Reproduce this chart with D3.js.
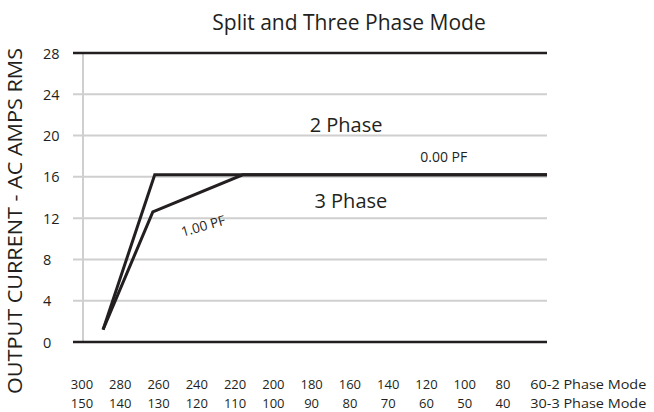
<!DOCTYPE html>
<html><head><meta charset="utf-8">
<script src="https://cdn.jsdelivr.net/npm/d3@7"></script>
<style>body{margin:0;background:#fff}svg{display:block}text{font-family:"Open Sans",sans-serif;fill:#231f20}</style>
</head><body><svg id="c" width="654" height="412"></svg>
<script>
const title = "Split and Three Phase Mode";
const yLabel = "OUTPUT CURRENT - AC AMPS RMS";
const yTicks = [0, 4, 8, 12, 16, 20, 24, 28];
const xTicks2 = ["300","280","260","240","220","200","180","160","140","120","100","80"];
const xTicks3 = ["150","140","130","120","110","100","90","80","70","60","50","40"];
const xTickValues = [300,280,260,240,220,200,180,160,140,120,100,80];
const lastTick2 = "60-2 Phase Mode";
const lastTick3 = "30-3 Phase Mode";
const lastTickValue = 60;
// series: x in 2-phase-mode units, y in amps
const pf000 = [[289,1.2],[262,16.2],[57,16.2]];
const pf100 = [[289,1.2],[263,12.6],[216,16.2],[57,16.2]];
const annotations = [
  {text:"2 Phase", x:162, y:20.3, size:20, rot:0},
  {text:"0.00 PF", x:111, y:17.4, size:14, rot:0},
  {text:"3 Phase", x:159.5, y:13.0, size:20, rot:0},
  {text:"1.00 PF", x:236, y:10.8, size:13.5, rot:-16}
];

const svg = d3.select("#c");
const x = d3.scaleLinear().domain([300,80]).range([82,503]);
const y = d3.scaleLinear().domain([0,28]).range([342,53]);
const left = 73, right = 547;

svg.append("text").attr("x",349).attr("y",30).attr("text-anchor","middle")
  .style("font-size","21px").text(title);

// grid
svg.selectAll(".g").data(yTicks.filter(d=>d>0&&d<28)).join("line")
  .attr("x1",left).attr("x2",right).attr("y1",d=>y(d)).attr("y2",d=>y(d))
  .attr("stroke","#cfcfcf").attr("stroke-width",2);
svg.append("line").attr("x1",x(300)+1).attr("x2",x(300)+1).attr("y1",y(28)).attr("y2",y(0))
  .attr("stroke","#cfcfcf").attr("stroke-width",2);
svg.selectAll(".f").data([0,28]).join("line")
  .attr("x1",left).attr("x2",right).attr("y1",d=>y(d)).attr("y2",d=>y(d))
  .attr("stroke","#231f20").attr("stroke-width",2.5);

// y tick labels
svg.selectAll(".yt").data(yTicks).join("text")
  .attr("x",43).attr("y",d=>y(d)+5.5).style("font-size","14.5px").text(d=>d);

// y label
svg.append("text").attr("transform",`translate(22,${(48+394)/2}) rotate(-90)`)
  .attr("text-anchor","middle").style("font-size","20px")
  .attr("textLength",346).attr("lengthAdjust","spacingAndGlyphs").text(yLabel);

// x tick labels
svg.selectAll(".x2").data(xTicks2).join("text")
  .attr("x",(d,i)=>x(xTickValues[i])).attr("y",389).attr("text-anchor","middle")
  .style("font-size","13px").text(d=>d);
svg.selectAll(".x3").data(xTicks3).join("text")
  .attr("x",(d,i)=>x(xTickValues[i])).attr("y",407.5).attr("text-anchor","middle")
  .style("font-size","13px").text(d=>d);
svg.append("text").attr("x",x(lastTickValue)-11).attr("y",389).style("font-size","13px")
  .attr("textLength",116).attr("lengthAdjust","spacingAndGlyphs").text(lastTick2);
svg.append("text").attr("x",x(lastTickValue)-11).attr("y",407.5).style("font-size","13px")
  .attr("textLength",116).attr("lengthAdjust","spacingAndGlyphs").text(lastTick3);

// lines
const line = d3.line().x(d=>x(d[0])).y(d=>y(d[1]));
[pf100, pf000].forEach(s=>{
  svg.append("path").datum(s).attr("d",line).attr("fill","none")
    .attr("stroke","#231f20").attr("stroke-width",3).attr("stroke-linejoin","miter");
});

annotations.forEach(a=>{
  svg.append("text").attr("transform",`translate(${x(a.x)},${y(a.y)}) rotate(${a.rot})`)
    .attr("text-anchor","middle").style("font-size",a.size+"px").text(a.text);
});
</script></body></html>
